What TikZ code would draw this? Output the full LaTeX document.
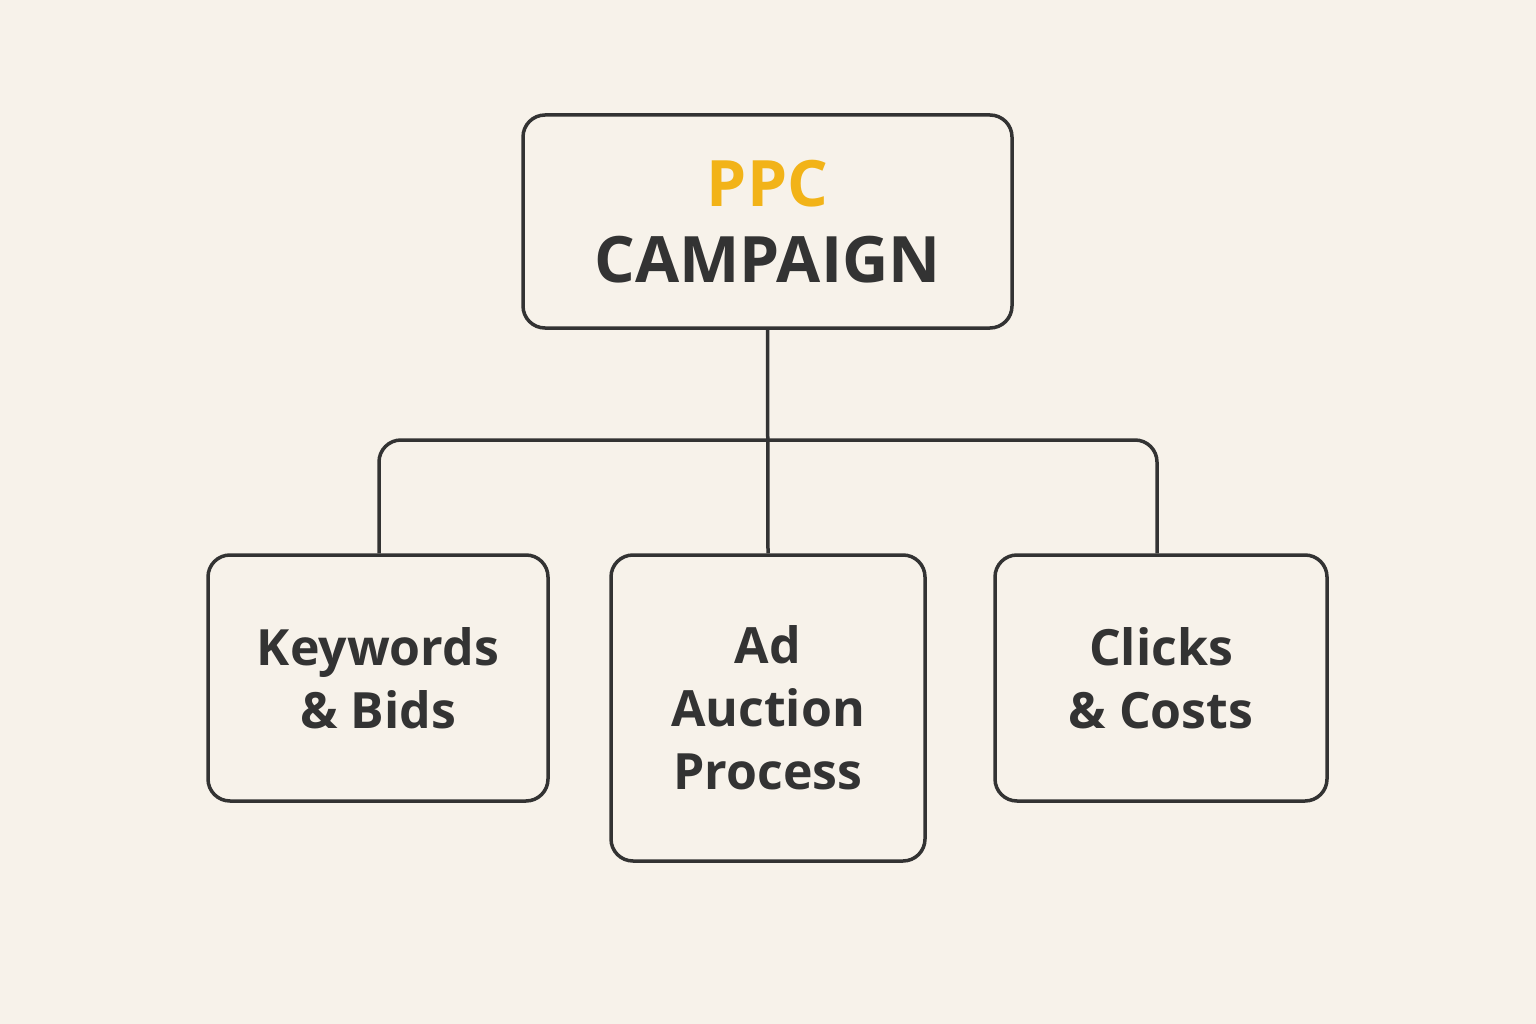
\documentclass[tikz,border=0pt]{standalone}
\usepackage{fontspec}
\setmainfont{Open Sans}
\definecolor{bg}{HTML}{F7F2EA}
\definecolor{ink}{HTML}{333333}
\definecolor{gold}{HTML}{F2B318}
\begin{document}
\begin{tikzpicture}[x=1pt,y=-1pt,
  box/.style={draw=ink,line width=3.5pt,rounded corners=22pt,inner sep=0pt,align=center,text=ink,font=\fontsize{50}{63}\selectfont\bfseries},
  link/.style={draw=ink,line width=3.5pt,rounded corners=22pt}]
\fill[bg] (0,0) rectangle (1536,1024);
\useasboundingbox (0,0) rectangle (1536,1024);
\node[box,minimum width=489pt,minimum height=213pt,font=\fontsize{64}{76}\selectfont\bfseries] (top) at (767.5,221.5) {\textcolor{gold}{PPC}\\CAMPAIGN};
\node[box,minimum width=340pt,minimum height=246pt] (kw) at (378,678) {Keywords\\\& Bids};
\node[box,minimum width=314pt,minimum height=306pt] (ad) at (768,708) {Ad\\Auction\\Process};
\node[box,minimum width=332pt,minimum height=246pt] (cc) at (1161,678) {Clicks\\\& Costs};
\coordinate (j) at (767.5,440);
\draw[link] (top.south) -- (ad.north);
\draw[link] (kw.north -| 379,0) -- (379,440) -- (1157,440) -- (cc.north -| 1157,0);
\end{tikzpicture}
\end{document}
